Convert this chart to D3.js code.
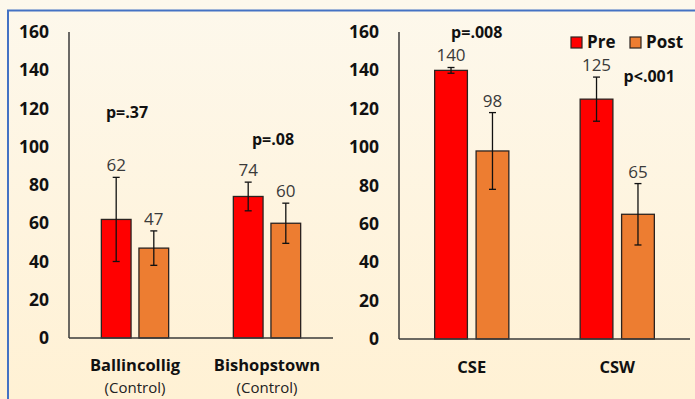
<!DOCTYPE html>
<html>
<head>
<meta charset="utf-8">
<script src="https://cdn.jsdelivr.net/npm/d3@7"></script>
<style>
  html, body { margin: 0; padding: 0; background: #FEF6E3; }
  svg { display: block; }
  text { font-family: "Open Sans", "Liberation Sans", sans-serif; }
</style>
</head>
<body>
<svg id="chart" width="695" height="399"></svg>
<script>
// ---------- data ----------
const seriesNames = ["Pre", "Post"];
const leftCategories = ["Ballincollig", "Bishopstown"];
const leftSubLabels = ["(Control)", "(Control)"];
const leftPre = [62, 74];
const leftPost = [47, 60];
const leftPreErr = [22, 7.5];
const leftPostErr = [9, 10.5];
const leftPText = ["p=.37", "p=.08"];
const leftPY = [118, 104];

const rightCategories = ["CSE", "CSW"];
const rightPre = [140, 125];
const rightPost = [98, 65];
const rightPreErr = [1.5, 11.5];
const rightPostErr = [20, 16];
const rightPText = ["p=.008", "p<.001"];
const rightPY = [160, 137];

const yTicks = [0, 20, 40, 60, 80, 100, 120, 140, 160];

// ---------- setup ----------
const svg = d3.select("#chart");
const colors = { Pre: "#FF0000", Post: "#ED7D31" };

const defs = svg.append("defs");
const grad = defs.append("linearGradient").attr("id", "bg").attr("x1", 0).attr("y1", 0).attr("x2", 0).attr("y2", 1);
grad.append("stop").attr("offset", "0%").attr("stop-color", "#FDF8EC");
grad.append("stop").attr("offset", "100%").attr("stop-color", "#FFF1D4");
svg.append("rect").attr("width", 695).attr("height", 399).attr("fill", "url(#bg)");
// frame
svg.append("rect").attr("x", 8).attr("y", 10.5).attr("width", 700).attr("height", 400)
  .attr("fill", "none").attr("stroke", "#4472C4").attr("stroke-width", 2);

function panel(cfg) {
  const g = svg.append("g");
  const y = d3.scaleLinear().domain([0, 160]).range([cfg.y0, 32]);
  const x0 = d3.scaleBand().domain(cfg.cats).range([cfg.xl, cfg.xr]);
  const bw = x0.bandwidth();
  const x1 = d3.scaleBand().domain(seriesNames).range([bw * 0.245, bw * 0.755]).paddingInner(0.21);

  // y axis tick labels
  const ax = d3.axisLeft(y).tickValues(yTicks).tickSize(0).tickPadding(20);
  const axG = g.append("g").attr("transform", `translate(${cfg.xl},0)`).call(ax);
  axG.select(".domain").remove();
  axG.selectAll("text").attr("font-size", 17.5).attr("font-weight", "bold").attr("fill", "#111")
    .attr("font-family", '"Open Sans", sans-serif');

  const rows = [];
  cfg.cats.forEach((c, i) => {
    rows.push({ cat: c, s: "Pre", v: cfg.pre[i], e: cfg.preErr[i] });
    rows.push({ cat: c, s: "Post", v: cfg.post[i], e: cfg.postErr[i] });
  });

  // bars
  g.selectAll("rect.bar").data(rows).join("rect").attr("class", "bar")
    .attr("x", d => x0(d.cat) + x1(d.s))
    .attr("y", d => y(d.v))
    .attr("width", x1.bandwidth())
    .attr("height", d => y(0) - y(d.v))
    .attr("fill", d => colors[d.s])
    .attr("stroke", "#2b2320").attr("stroke-width", 1.3);

  // error bars
  const cx = d => x0(d.cat) + x1(d.s) + x1.bandwidth() / 2;
  const eg = g.append("g").attr("stroke", "#111").attr("stroke-width", 1.3);
  rows.forEach(d => {
    const c = cx(d);
    eg.append("line").attr("x1", c).attr("x2", c).attr("y1", y(d.v + d.e)).attr("y2", y(d.v - d.e));
    eg.append("line").attr("x1", c - 3.5).attr("x2", c + 3.5).attr("y1", y(d.v + d.e)).attr("y2", y(d.v + d.e));
    eg.append("line").attr("x1", c - 3.5).attr("x2", c + 3.5).attr("y1", y(d.v - d.e)).attr("y2", y(d.v - d.e));
  });

  // value labels
  g.selectAll("text.val").data(rows).join("text").attr("class", "val")
    .attr("x", cx)
    .attr("y", d => y(d.v + d.e) - 6)
    .attr("text-anchor", "middle").attr("font-size", 17).attr("fill", "#3a3a3a")
    .text(d => d.v);

  // axes lines
  g.append("line").attr("x1", cfg.xl).attr("x2", cfg.xl).attr("y1", y(160)).attr("y2", y(0))
    .attr("stroke", "#3a3a3a").attr("stroke-width", 1.5);
  g.append("line").attr("x1", cfg.xl).attr("x2", cfg.xr).attr("y1", y(0)).attr("y2", y(0))
    .attr("stroke", "#3a3a3a").attr("stroke-width", 1.5);

  // category labels
  cfg.cats.forEach((c, i) => {
    g.append("text").attr("x", x0(c) + bw / 2).attr("y", cfg.catY)
      .attr("text-anchor", "middle").attr("font-size", 16.5).attr("font-weight", "bold").attr("fill", "#111")
      .text(c);
    if (cfg.subs) {
      g.append("text").attr("x", x0(c) + bw / 2).attr("y", 393)
        .attr("text-anchor", "middle").attr("font-size", 15).attr("fill", "#222")
        .text(cfg.subs[i]);
    }
  });

  // p-values
  cfg.cats.forEach((c, i) => {
    g.append("text").attr("x", x0(c) + bw / 2 + cfg.pdx[i]).attr("y", y(cfg.pY[i]) + 5.5)
      .attr("text-anchor", "middle").attr("font-size", 16).attr("font-weight", "bold").attr("fill", "#111")
      .text(cfg.pText[i]);
  });
  return { x0, x1, y };
}

panel({ cats: leftCategories, subs: leftSubLabels, pre: leftPre, post: leftPost,
  preErr: leftPreErr, postErr: leftPostErr, pText: leftPText, pY: leftPY,
  xl: 69, xr: 333, y0: 338, catY: 371, pdx: [-8, 6] });
panel({ cats: rightCategories, subs: null, pre: rightPre, post: rightPost,
  preErr: rightPreErr, postErr: rightPostErr, pText: rightPText, pY: rightPY,
  xl: 399, xr: 690, y0: 339, catY: 373, pdx: [5, 32] });

// legend
const lg = svg.append("g");
seriesNames.forEach((s, i) => {
  const lx = [571, 630][i];
  lg.append("rect").attr("x", lx).attr("y", 37).attr("width", 11).attr("height", 11)
    .attr("fill", colors[s]).attr("stroke", "#2b2320").attr("stroke-width", 1.2);
  lg.append("text").attr("x", lx + 16).attr("y", 48).attr("font-size", 17).attr("font-weight", "bold")
    .attr("fill", "#111").text(s);
});
</script>
</body>
</html>
